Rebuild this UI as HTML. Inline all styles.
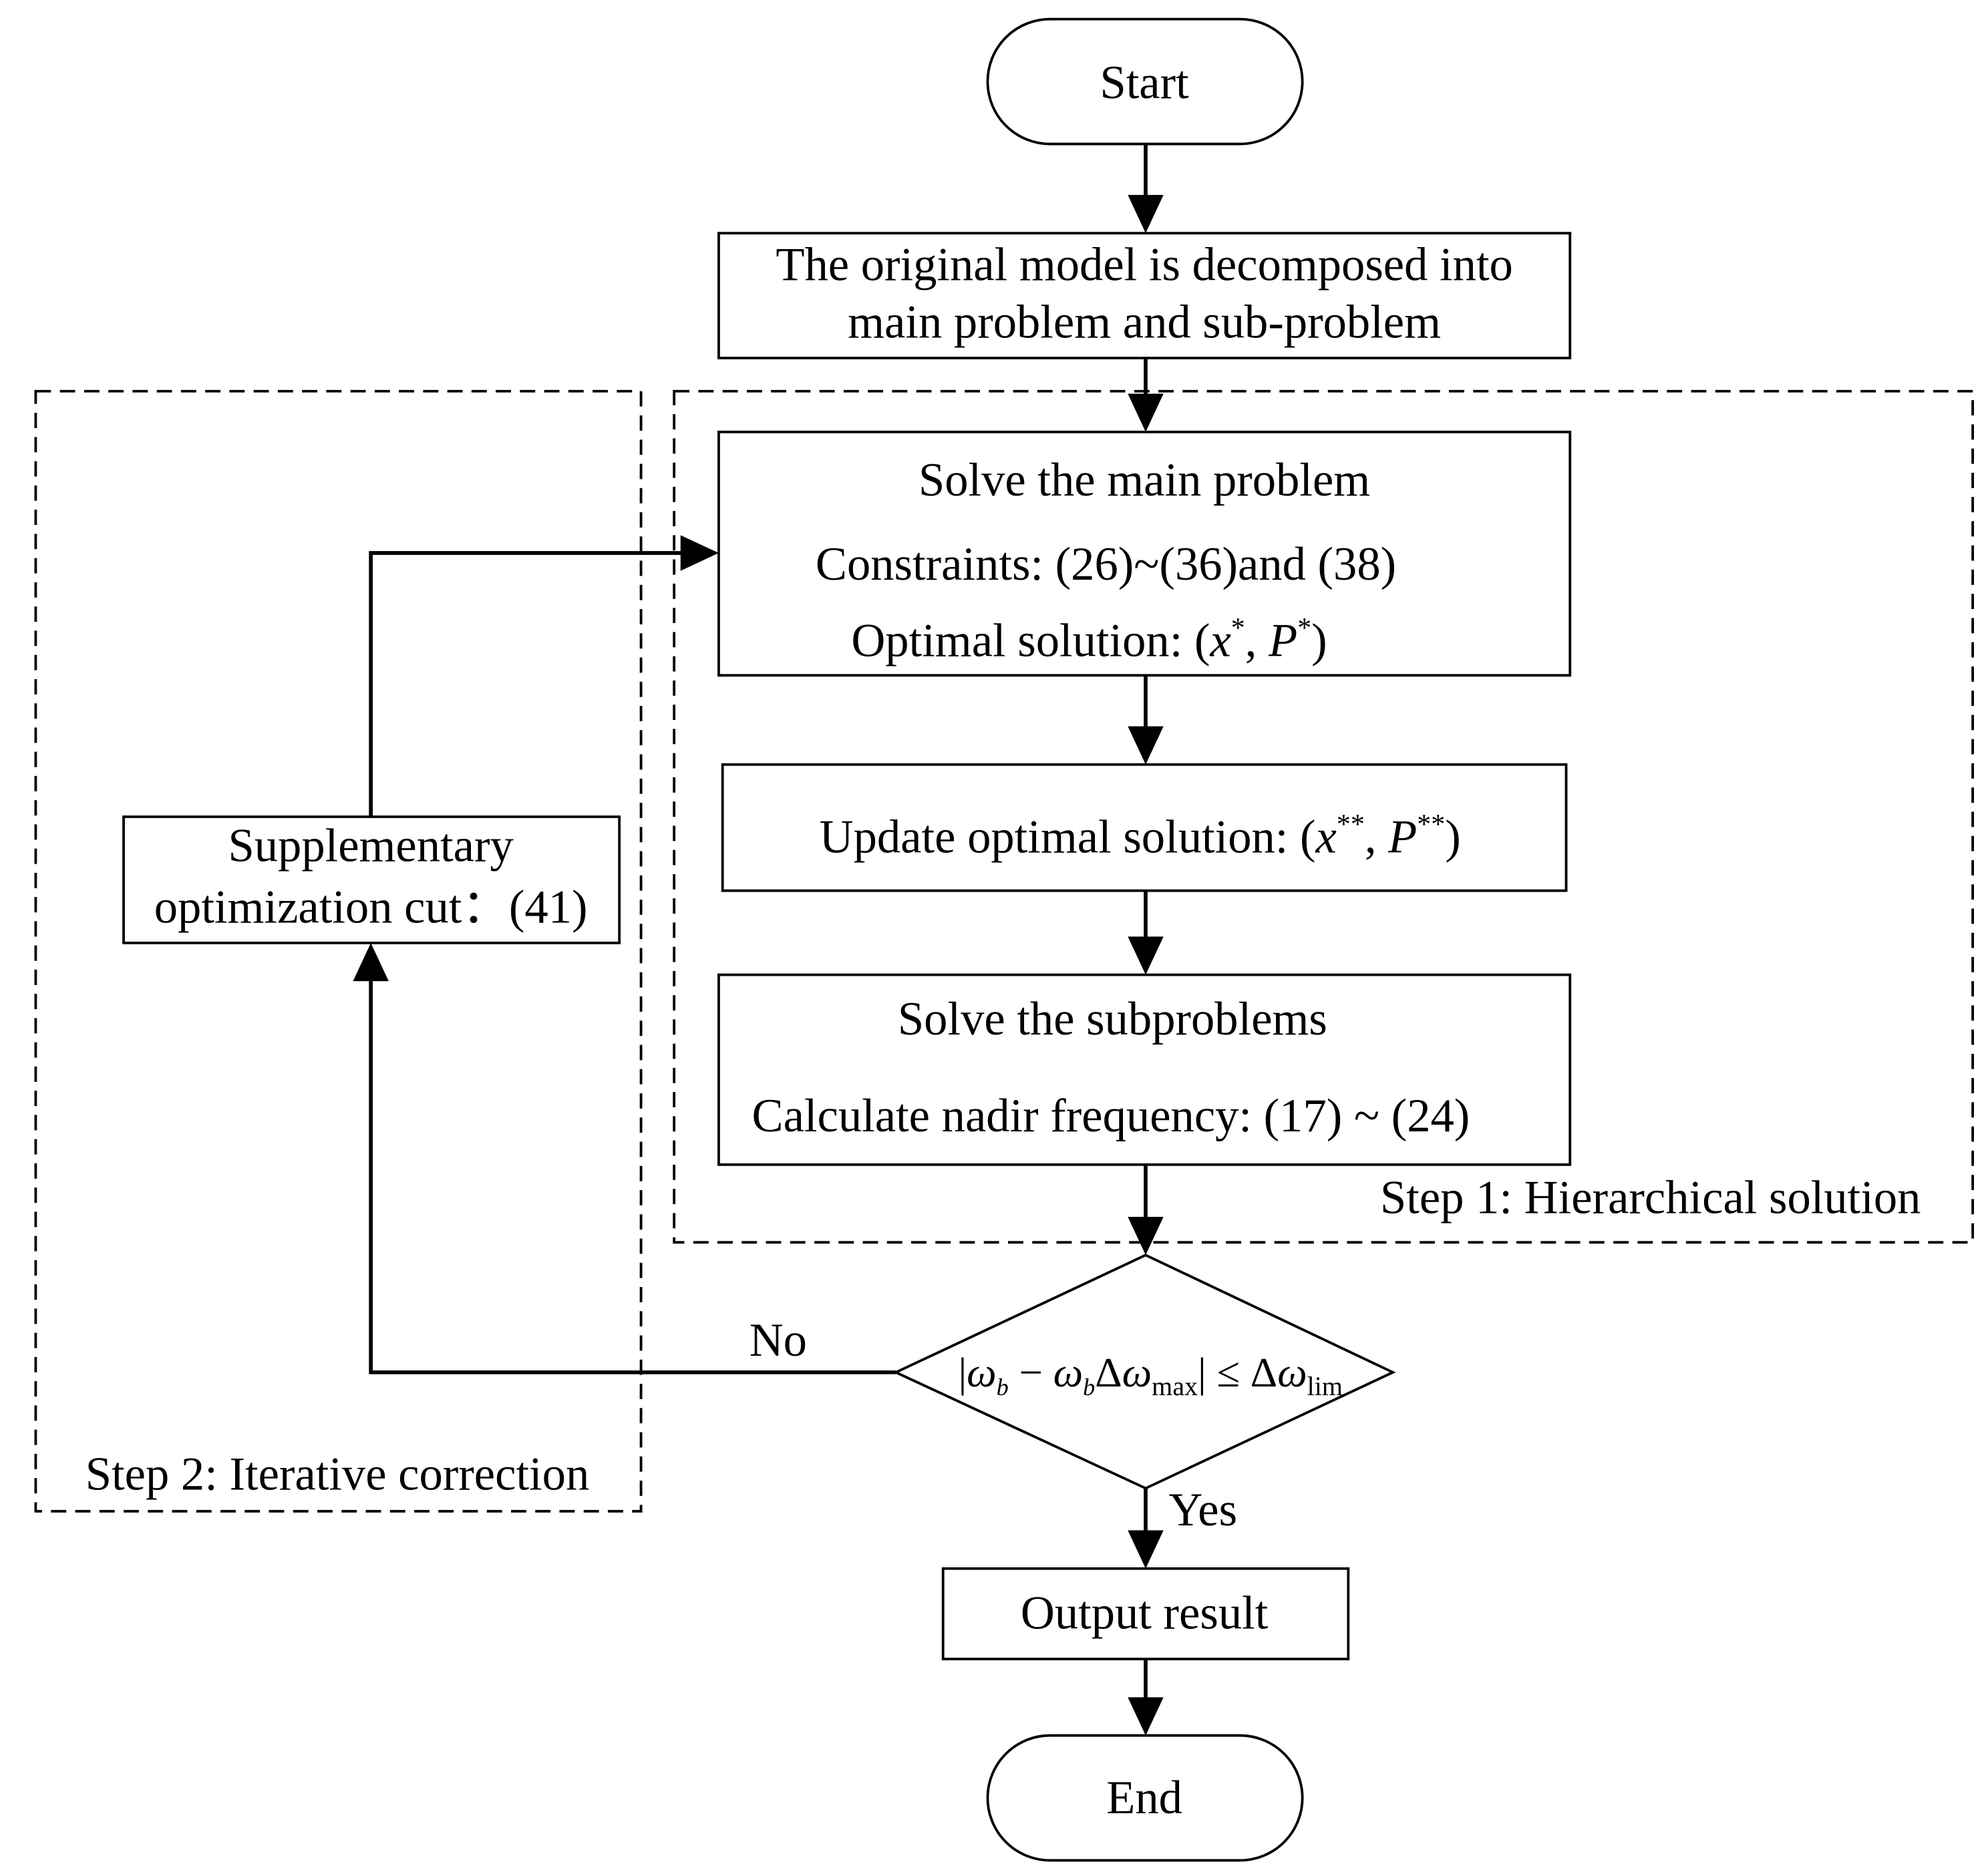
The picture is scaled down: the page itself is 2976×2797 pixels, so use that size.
<!DOCTYPE html>
<html><head><meta charset="utf-8"><style>
html,body{margin:0;padding:0;background:#fff;}
svg{display:block;}
text{font-family:"Liberation Serif",serif;fill:#000;}
</style></head><body>
<svg width="2976" height="2797" viewBox="0 0 1560 1466" preserveAspectRatio="none" xmlns="http://www.w3.org/2000/svg">
<g fill="none" stroke="#000" stroke-width="2">
<rect x="775" y="15" width="247" height="98" rx="49"/>
<rect x="564" y="183" width="668" height="98"/>
<rect x="564" y="339" width="668" height="191"/>
<rect x="567" y="600" width="662" height="99"/>
<rect x="564" y="765" width="668" height="149"/>
<rect x="97" y="641" width="389" height="99"/>
<rect x="740" y="1231" width="318" height="71"/>
<rect x="775" y="1362" width="247" height="98" rx="49"/>
<polygon points="899,985 1093,1077 899,1168 703,1077"/>
<g stroke-dasharray="12,7">
<rect x="529" y="307" width="1019" height="668"/>
<rect x="28" y="307" width="475" height="879"/>
</g>
<g stroke-width="3">
<line x1="899" y1="113" x2="899" y2="155"/>
<line x1="899" y1="281" x2="899" y2="312"/>
<line x1="899" y1="530" x2="899" y2="572"/>
<line x1="899" y1="699" x2="899" y2="737"/>
<line x1="899" y1="914" x2="899" y2="957"/>
<line x1="899" y1="1168" x2="899" y2="1203"/>
<line x1="899" y1="1302" x2="899" y2="1334"/>
<polyline points="703,1077 291,1077 291,768"/>
<polyline points="291,641 291,434 536,434"/>
</g>
</g>
<g fill="#000">
<polygon points="885,153 913,153 899,183"/>
<polygon points="885,309 913,309 899,339"/>
<polygon points="885,570 913,570 899,600"/>
<polygon points="885,735 913,735 899,765"/>
<polygon points="885,955 913,955 899,985"/>
<polygon points="885,1201 913,1201 899,1231"/>
<polygon points="885,1332 913,1332 899,1362"/>
<polygon points="277,770 305,770 291,740"/>
<polygon points="534,420 534,448 564,434"/>
</g>
<g font-size="37">
<text x="898" y="77" text-anchor="middle">Start</text>
<text x="898" y="220" text-anchor="middle">The original model is decomposed into</text>
<text x="898" y="265" text-anchor="middle">main problem and sub-problem</text>
<text x="898" y="389" text-anchor="middle">Solve the main problem</text>
<text x="640" y="455">Constraints: (26)~(36)and (38)</text>
<text x="668" y="515">Optimal solution: (<tspan font-style="italic">x</tspan><tspan font-size="22" dy="-15">*</tspan><tspan dy="15">, </tspan><tspan font-style="italic">P</tspan><tspan font-size="22" dy="-15">*</tspan><tspan dy="15">)</tspan></text>
<text x="643" y="669">Update optimal solution: (<tspan font-style="italic">x</tspan><tspan font-size="22" dy="-15">**</tspan><tspan dy="15">, </tspan><tspan font-style="italic">P</tspan><tspan font-size="22" dy="-15">**</tspan><tspan dy="15">)</tspan></text>
<text x="873" y="812" text-anchor="middle">Solve the subproblems</text>
<text x="590" y="888">Calculate nadir frequency: (17) ~ (24)</text>
<text x="1083" y="952">Step 1: Hierarchical solution</text>
<text x="291" y="676" text-anchor="middle">Supplementary</text>
<text x="291" y="724" text-anchor="middle">optimization cut：(41)</text>
<text x="588" y="1064">No</text>
<text x="917" y="1197">Yes</text>
<text x="67" y="1169">Step 2: Iterative correction</text>
<text x="898" y="1278" text-anchor="middle">Output result</text>
<text x="898" y="1423" text-anchor="middle">End</text>
</g>
<g font-size="33">
<text x="752" y="1088">|<tspan font-style="italic">ω</tspan><tspan font-size="19" font-style="italic" dy="7">b</tspan><tspan dy="-7"> − </tspan><tspan font-style="italic">ω</tspan><tspan font-size="19" font-style="italic" dy="7">b</tspan><tspan dy="-7">Δ</tspan><tspan font-style="italic">ω</tspan><tspan font-size="21" dy="7">max</tspan><tspan dy="-7">| ≤ Δ</tspan><tspan font-style="italic">ω</tspan><tspan font-size="21" dy="7">lim</tspan></text>
</g>
</svg>
</body></html>
